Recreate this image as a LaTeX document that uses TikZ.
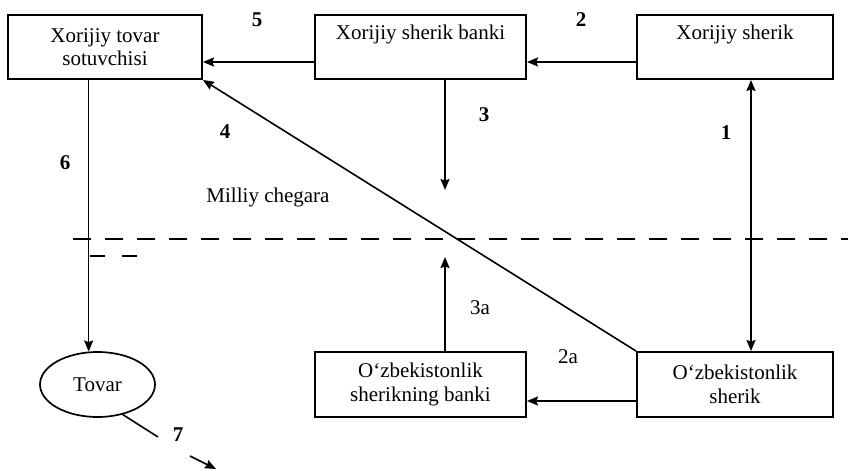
\documentclass[tikz,border=0pt]{standalone}
\usepackage{fontspec}
\setmainfont{Liberation Serif}
\usetikzlibrary{arrows.meta, shapes.geometric}
\tikzset{
  box/.style   ={draw, line width=1.9pt, align=center, inner sep=0pt,
                 font=\fontsize{21}{23.5}\selectfont, minimum height=64pt},
  ell/.style   ={draw, ellipse, line width=1.7pt, inner sep=0pt,
                 minimum width=115pt, minimum height=65pt,
                 font=\fontsize{21}{23.5}\selectfont},
  link/.style  ={line width=1.6pt},
  flow/.style  ={-{Stealth[length=11pt, width=9pt, inset=1.5pt]}, line width=1.6pt},
  flowbi/.style={{Stealth[length=11pt, width=9pt, inset=1.5pt]}-{Stealth[length=11pt, width=9pt, inset=1.5pt]}, line width=1.6pt},
  border/.style={line width=2pt, dash pattern=on 18pt off 14pt},
  lbl/.style   ={font=\fontsize{21}{23.5}\selectfont, inner sep=0pt},
  num/.style   ={font=\fontsize{21}{23.5}\selectfont\bfseries, inner sep=0pt},
}

\begin{document}
\begin{tikzpicture}[x=1pt, y=-1pt]
  \useasboundingbox (0,0) rectangle (848,470);
  % boxes
  \node[box, minimum width=194pt] (sot) at (105,47)    {Xorijiy tovar\\sotuvchisi};
  \node[box, minimum width=211pt] (xsb) at (420.5,47)  {Xorijiy sherik banki\\\strut};
  \node[box, minimum width=196pt] (xs)  at (735,47)    {Xorijiy sherik\\\strut};
  \node[box, minimum width=211pt, minimum height=65pt] (uzb) at (420.5,384.5) {O‘zbekistonlik\\sherikning banki};
  \node[box, minimum width=196pt, minimum height=65pt] (uzs) at (735,384.5)   {O‘zbekistonlik\\sherik};
  \node[ell] (tov) at (97.5,384.5) {Tovar};
  % free ends
  \coordinate (c3)  at (445,190);
  \coordinate (c3a) at (445,257);
  \coordinate (t7a) at (158,437);
  \coordinate (t7b) at (190,456);
  \coordinate (t7c) at (216,469);
  \coordinate (bl)  at (73,239);
  \coordinate (br)  at (848,239);
  \coordinate (sl)  at (90,256);
  \coordinate (sr)  at (140,256);
  % connectors
  \draw[flow]   ([yshift=-15pt]xsb.west) -- ([yshift=-15pt]sot.east);
  \draw[flow]   ([yshift=-15pt]xs.west) -- ([yshift=-15pt]xsb.east);
  \draw[flow]   (xsb.south -| c3) -- (c3);
  \draw[flow]   (uzb.north -| c3a) -- (c3a);
  \draw[flowbi] ([xshift=16pt]xs.south) -- ([xshift=16pt]uzs.north);
  \draw[flow]   (uzs.north west) -- (sot.south east);
  \draw[flow]   ([yshift=-16.5pt]uzs.west) -- ([yshift=-16.5pt]uzb.east);
  \draw[flow]   (sot.south -| tov.105) -- (tov.105);
  \draw[link]   (tov.-50) -- (t7a);
  \draw[flow]   (t7b) -- (t7c);
  % national border
  \draw[border] (bl) -- (br);
  \draw[border, dash pattern=on 15pt off 17pt] (sl) -- (sr);
  % labels
  \node[num] at (257,20)  {5};
  \node[num] at (581,20)  {2};
  \node[num] at (484,115) {3};
  \node[num] at (726,133) {1};
  \node[num] at (225,132) {4};
  \node[num] at (65,163)  {6};
  \node[num] at (178,435) {7};
  \node[lbl] at (268,197) {Milliy chegara};
  \node[lbl] at (480,308) {3a};
  \node[lbl] at (568,357) {2a};
\end{tikzpicture}
\end{document}
